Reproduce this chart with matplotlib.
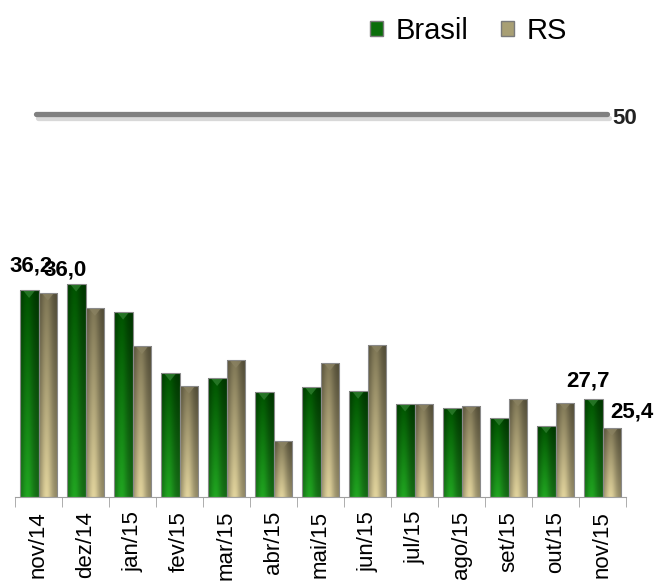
import numpy as np
import matplotlib
matplotlib.use('Agg')
import matplotlib.pyplot as plt
from matplotlib.patches import Patch, Polygon
import matplotlib.patheffects as pe

plt.rcParams['font.family'] = ['Liberation Sans', 'DejaVu Sans']

meses = ['nov/14', 'dez/14', 'jan/15', 'fev/15', 'mar/15', 'abr/15', 'mai/15',
         'jun/15', 'jul/15', 'ago/15', 'set/15', 'out/15', 'nov/15']
brasil = [36.2, 36.7, 34.5, 29.7, 29.3, 28.2, 28.6, 28.3, 27.3, 27.0, 26.2, 25.6, 27.7]
rs = [36.0, 34.8, 31.8, 28.7, 30.7, 24.4, 30.5, 31.9, 27.3, 27.1, 27.7, 27.4, 25.4]
meta = 50
# (mes, serie, deslocamento do rotulo em pixels)
rotulos = [(0, 'Brasil', (2, 14)), (0, 'RS', (17, 12)),
           (12, 'Brasil', (-5, 7)), (12, 'RS', (20, 6))]

y0 = 20


def gradiente(topo, base):
    ny, nx = 80, 30
    t = np.linspace(0, 1, ny)[:, None, None]
    xs = np.linspace(0, 1, nx)[None, :, None]
    brilho = 0.68 + 0.4 * np.exp(-((xs - 0.4) / 0.32) ** 2)
    cor = (np.array(topo) * (1 - t) + np.array(base) * t) * brilho
    return np.clip(cor, 0, 1)


def pintar(ax, barras, img, seta):
    for b in barras:
        x, w, h = b.get_x(), b.get_width(), b.get_height()
        top = b.get_y() + h
        im = ax.imshow(img, extent=(x, x + w, b.get_y(), top),
                       aspect='auto', origin='upper', zorder=1.5,
                       interpolation='bilinear')
        im.set_clip_path(b)
        # chanfro no topo
        ax.add_patch(Polygon([(x + 0.2 * w, top - 0.05), (x + 0.8 * w, top - 0.05),
                              (x + 0.5 * w, top - 0.6)], closed=True,
                             facecolor=seta, edgecolor='none', alpha=0.8, zorder=1.7))


fig = plt.figure(figsize=(6.58, 5.81), dpi=100)
ax = fig.add_axes([0.0228, 0.1446, 0.9286, 0.7027])

x = np.arange(len(meses))
w = 0.4
vb = np.array(brasil) - y0
vr = np.array(rs) - y0
bb = ax.bar(x - w / 2, vb, w, bottom=y0, facecolor='none', edgecolor='#8a8a8a', lw=0.8, zorder=2)
br = ax.bar(x + w / 2, vr, w, bottom=y0, facecolor='none', edgecolor='#8a8a8a', lw=0.8, zorder=2)
pintar(ax, bb, gradiente((0.0, 0.3, 0.0), (0.12, 0.6, 0.12)), '#2e7d2e')
pintar(ax, br, gradiente((0.46, 0.43, 0.31), (0.82, 0.77, 0.57)), '#8a8262')

ax.set_xlim(-0.5, len(meses) - 0.5)
ax.set_ylim(y0, 52)

ax.axhline(meta, xmin=0.034, xmax=0.969, color='#808080', lw=3.8,
           solid_capstyle='round',
           path_effects=[pe.SimpleLineShadow(offset=(1.5, -3), shadow_color='#909090', alpha=0.35),
                         pe.Normal()])
ax.text(0.977, meta - 0.3, str(meta), transform=ax.get_yaxis_transform(), ha='left', va='center',
        fontsize=16, fontweight='bold', color='#222222')

series = {'Brasil': (brasil, -w / 2), 'RS': (rs, w / 2)}
for i, s, off in rotulos:
    vals, dx = series[s]
    ax.annotate(f'{vals[i]:.1f}'.replace('.', ','), (i + dx, vals[i]), xytext=off,
                textcoords='offset pixels', ha='center', va='bottom',
                fontsize=16, fontweight='bold', color='black')

ax.set_yticks([])
for s in ['left', 'right', 'top']:
    ax.spines[s].set_visible(False)
ax.spines['bottom'].set_color('#a0a0a0')
ax.set_xticks(x)
ax.set_xticklabels(meses, rotation=90, fontsize=16)
ax.tick_params(axis='x', which='major', length=0, pad=10)
ax.set_xticks(np.arange(-0.5, len(meses)), minor=True)
ax.tick_params(axis='x', which='minor', length=7, color='#a0a0a0')

handles = [Patch(facecolor='#0a6e0a', edgecolor='#7a7a7a', label='Brasil'),
           Patch(facecolor='#a89f74', edgecolor='#7a7a7a', label='RS')]
fig.legend(handles=handles, loc='center', bbox_to_anchor=(0.712, 0.947), ncol=2,
           frameon=False, fontsize=21, handlelength=0.45, handleheight=0.45,
           handletextpad=0.45, columnspacing=1.1)

fig.savefig('out.png', dpi=100)
